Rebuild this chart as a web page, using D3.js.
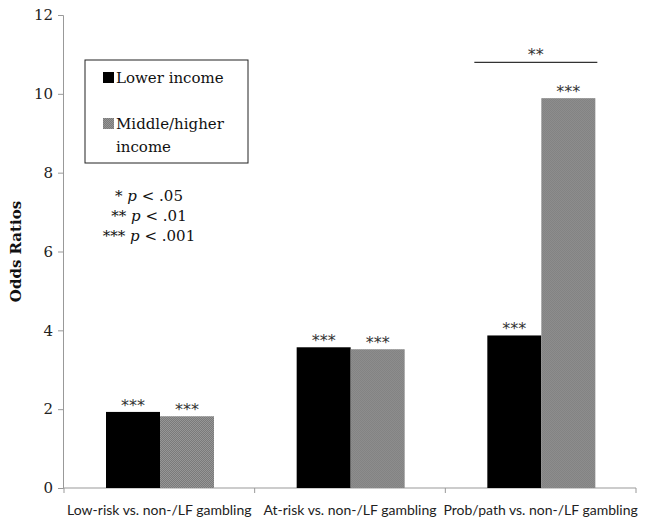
<!DOCTYPE html>
<html>
<head>
<meta charset="utf-8">
<script src="https://cdn.jsdelivr.net/npm/d3@7"></script>
<style>
  body { margin: 0; background: #fff; }
  svg { display: block; }
</style>
</head>
<body>
<div id="chart"></div>
<script>
var categories = ["Low-risk vs. non-/LF gambling", "At-risk vs. non-/LF gambling", "Prob/path vs. non-/LF gambling"];
var seriesNames = ["Lower income", "Middle/higher income"];
var lowerIncome = [1.93, 3.57, 3.87];
var middleHigher = [1.82, 3.52, 9.89];
var barStars = [["***", "***"], ["***", "***"], ["***", "***"]];
var yTicks = [0, 2, 4, 6, 8, 10, 12];
var pNotes = ["* p < .05", "** p < .01", "*** p < .001"];
var bracketValue = 10.8;

var cfg = { w: 646, h: 522, top: 15, left: 63, bot: 33, right: 11 };
var innerW = cfg.w - cfg.left - cfg.right,
    innerH = cfg.h - cfg.top - cfg.bot;

var root = d3.select("#chart").append("svg")
  .attr("width", cfg.w)
  .attr("height", cfg.h);

// dithered gray like the original print
var pat = root.append("defs").append("pattern")
  .attr("id", "dots").attr("patternUnits", "userSpaceOnUse")
  .attr("width", 2).attr("height", 2);
pat.append("rect").attr("width", 2).attr("height", 2).attr("fill", "#969696");
pat.append("rect").attr("width", 1).attr("height", 1).attr("fill", "#7a7a7a");
pat.append("rect").attr("x", 1).attr("y", 1).attr("width", 1).attr("height", 1).attr("fill", "#7a7a7a");

var svg = root.append("g")
  .attr("transform", "translate(" + cfg.left + "," + cfg.top + ")");

var data = categories.map(function(c, i) {
  return { cat: c, vals: [lowerIncome[i], middleHigher[i]], stars: barStars[i] };
});

var x0 = d3.scaleBand().domain(categories).range([1, 573]);
var x1 = d3.scaleBand().domain([0, 1]).range([42, 150]);
var y = d3.scaleLinear().domain([0, 12]).range([innerH - 1, 0]);
var colors = ["#000000", "url(#dots)"];

// y axis
var yAxis = svg.append("g")
  .call(d3.axisLeft(y).tickValues(yTicks).tickSize(5).tickPadding(5));
yAxis.select(".domain").attr("stroke", "#999");
yAxis.selectAll(".tick line").attr("stroke", "#999");
yAxis.selectAll("text")
  .style("font-family", "'DejaVu Serif', serif")
  .style("font-size", "15px")
  .attr("fill", "#222");

// x axis (ticks at band edges)
var xg = svg.append("g").attr("transform", "translate(0," + (innerH - 1) + ")");
xg.append("line").attr("x1", 0).attr("x2", x0.range()[1]).attr("stroke", "#999");
xg.selectAll(".xtick")
  .data(categories.map(function(c) { return x0(c); }).concat([x0.range()[1]]))
  .enter().append("line")
  .attr("x1", function(d) { return d; }).attr("x2", function(d) { return d; })
  .attr("y1", 0).attr("y2", 5).attr("stroke", "#999");
xg.selectAll(".xlabel")
  .data(categories)
  .enter().append("text")
  .attr("x", function(d) { return x0(d) + x0.bandwidth() / 2; })
  .attr("y", 27)
  .attr("text-anchor", "middle")
  .style("font-family", "Lato, 'Open Sans', sans-serif")
  .style("font-size", "14px")
  .attr("fill", "#222")
  .text(function(d) { return d; });

// bars
var group = svg.selectAll(".grp")
  .data(data)
  .enter().append("g")
  .attr("transform", function(d) { return "translate(" + x0(d.cat) + ",0)"; });

group.selectAll("rect")
  .data(function(d) { return d.vals; })
  .enter().append("rect")
  .attr("x", function(d, i) { return x1(i); })
  .attr("width", x1.bandwidth())
  .attr("y", function(d) { return y(d); })
  .attr("height", function(d) { return y(0) - y(d); })
  .attr("fill", function(d, i) { return colors[i]; });

group.selectAll(".star")
  .data(function(d) { return d.vals.map(function(v, i) { return { v: v, s: d.stars[i] }; }); })
  .enter().append("text")
  .attr("x", function(d, i) { return x1(i) + x1.bandwidth() / 2; })
  .attr("y", function(d) { return y(d.v) - 1; })
  .attr("text-anchor", "middle")
  .style("font-family", "'DejaVu Sans', sans-serif")
  .style("font-size", "16px")
  .attr("fill", "#333")
  .text(function(d) { return d.s; });

// bracket between income groups on the third category
var lastCat = categories[2];
var bx1 = x0(lastCat) + x1(0) - 13, bx2 = x0(lastCat) + x1.range()[1] + 2;
svg.append("line")
  .attr("x1", bx1).attr("x2", bx2)
  .attr("y1", y(bracketValue)).attr("y2", y(bracketValue))
  .attr("stroke", "#333").attr("stroke-width", 1.3);
svg.append("text")
  .attr("x", (bx1 + bx2) / 2)
  .attr("y", y(bracketValue) - 2)
  .attr("text-anchor", "middle")
  .style("font-family", "'DejaVu Sans', sans-serif")
  .style("font-size", "16px")
  .attr("fill", "#333")
  .text("**");

// legend
var legend = svg.append("g").attr("transform", "translate(22,45)");
legend.append("rect")
  .attr("width", 163).attr("height", 103)
  .attr("fill", "#fff").attr("stroke", "#222").attr("stroke-width", 1);
var legendLines = [["Lower income"], ["Middle/higher", "income"]];
legendLines.forEach(function(lines, i) {
  var ly = 12 + i * 46;
  legend.append("rect")
    .attr("x", 18).attr("y", ly).attr("width", 11).attr("height", 11)
    .attr("fill", colors[i]);
  lines.forEach(function(t, j) {
    legend.append("text")
      .attr("x", 31).attr("y", ly + 11 + j * 23)
      .style("font-family", "'DejaVu Serif', serif")
      .style("font-size", "15px")
      .attr("fill", "#111")
      .text(t);
  });
});

// p-value notes
var notes = svg.append("g").attr("transform", "translate(86,0)");
pNotes.forEach(function(n, i) {
  var parts = n.split("p");
  var t = notes.append("text")
    .attr("x", 0).attr("y", 186 + i * 20)
    .attr("text-anchor", "middle")
    .style("font-family", "'DejaVu Serif', serif")
    .style("font-size", "15px")
    .attr("fill", "#111");
  t.append("tspan").text(parts[0]);
  t.append("tspan").style("font-style", "italic").text("p");
  t.append("tspan").text(parts[1]);
});

// y axis title
svg.append("text")
  .attr("transform", "translate(-42," + y(6) + ") rotate(-90)")
  .attr("text-anchor", "middle")
  .style("font-family", "'DejaVu Serif', serif")
  .style("font-size", "15px")
  .style("font-weight", "bold")
  .attr("fill", "#111")
  .text("Odds Ratios");
</script>
</body>
</html>
